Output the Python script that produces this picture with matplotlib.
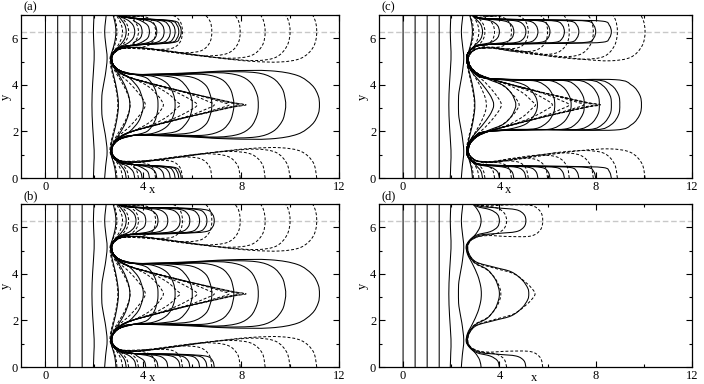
import matplotlib.pyplot as plt
from matplotlib.path import Path
from matplotlib.patches import PathPatch
from matplotlib.ticker import MultipleLocator

PI = 3.1416
TWO_PI = 6.2832

# every front is stored as its lower half (y from 0 to pi); the picture is
# symmetric about y = pi and periodic in y with period 2 pi

# early, nearly flat fronts (same in every panel, both models)
early = [
    [(0.0, 0.0), (0.0, 1.6), (0.0, PI)],
    [(0.5, 0.0), (0.5, 1.6), (0.5, PI)],
    [(1.0, 0.0), (1.0, 1.6), (1.0, PI)],
    [(1.5, 0.0), (1.5, 1.6), (1.5, PI)],
    [(1.96, 0.0), (1.98, 0.6), (1.99, 1.2), (1.93, 2.2), (1.9, PI)],
    [(2.42, 0.0), (2.46, 0.5), (2.52, 1.15), (2.44, 1.9), (2.32, 2.6), (2.3, PI)],
]

# shared trough paths
trough_a = [(3.6, 0.58), (3.05, 0.68), (2.78, 0.9), (2.7, 1.15), (2.76, 1.4), (3.02, 1.66), (3.6, 1.83)]
trough_c = [(3.5, 0.55), (3.0, 0.64), (2.72, 0.88), (2.64, 1.12), (2.7, 1.42), (2.95, 1.75), (3.5, 2.0)]
trough_dash = [(3.05, 0.74), (2.78, 0.95), (2.71, 1.18), (2.8, 1.5), (3.1, 1.8), (3.6, 2.02)]

# ---- panel (a): solid model
a_solid = [
    [(2.88, 0.0), (2.84, 0.4), (2.74, 0.8), (2.66, 1.12), (2.72, 1.6), (2.86, 2.2), (2.96, 2.8), (2.98, PI)],
    [(3.3, 0.0), (3.24, 0.3), (3.05, 0.58), (2.8, 0.85), (2.68, 1.12), (2.74, 1.42), (2.95, 1.78),
     (3.22, 2.25), (3.4, 2.75), (3.45, PI)],
    [(3.65, 0.0), (3.58, 0.28), (3.36, 0.5), (3.0, 0.68), (2.76, 0.92), (2.7, 1.15), (2.77, 1.42),
     (3.05, 1.72), (3.45, 2.0), (3.8, 2.42), (3.96, 2.85), (4.0, PI)],
    [(3.95, 0.0), (3.88, 0.27), (3.62, 0.47)] + trough_a + [(4.15, 2.0), (4.45, 2.4), (4.58, 2.85), (4.6, PI)],
    [(4.25, 0.0), (4.18, 0.27), (3.92, 0.46)] + trough_a + [(4.4, 1.92), (4.95, 2.2), (5.22, 2.65), (5.3, PI)],
    [(4.55, 0.0), (4.48, 0.27), (4.22, 0.46)] + trough_a
    + [(4.6, 1.88), (5.4, 2.02), (5.82, 2.45), (5.98, 2.9), (6.0, PI)],
    [(4.85, 0.0), (4.78, 0.27), (4.5, 0.47)] + trough_a
    + [(5.0, 1.86), (6.0, 1.96), (6.55, 2.3), (6.76, 2.8), (6.8, PI)],
    [(5.1, 0.0), (5.03, 0.27), (4.75, 0.47)] + trough_a
    + [(5.2, 1.84), (6.5, 1.84), (7.2, 2.05), (7.55, 2.45), (7.68, 2.9), (7.7, PI)],
    [(5.3, 0.0), (5.23, 0.27), (4.95, 0.47)] + trough_a
    + [(5.4, 1.82), (7.0, 1.76), (7.9, 1.88), (8.4, 2.2), (8.65, 2.7), (8.7, PI)],
    [(5.45, 0.0), (5.38, 0.27), (5.1, 0.47)] + trough_a
    + [(5.5, 1.8), (7.2, 1.72), (8.6, 1.76), (9.3, 2.0), (9.68, 2.45), (9.8, 2.9), (9.82, PI)],
    [(5.55, 0.0), (5.48, 0.27), (5.2, 0.47)] + trough_a
    + [(5.6, 1.78), (7.5, 1.68), (9.2, 1.68), (10.3, 1.88), (10.9, 2.3), (11.15, 2.75), (11.2, PI)],
]

# dashed model, centre fingers (shared by every panel but (d))
dash_tip_35 = [(3.2, 2.32), (3.4, 2.8), (3.46, PI)]
dash_tip_41 = [(3.45, 2.22), (3.85, 2.7), (4.04, 3.0), (4.08, PI)]
dash_tip_48 = [(4.2, 2.35), (4.6, 2.75), (4.78, 3.02), (4.82, PI)]
dash_tip_55 = [(4.4, 2.3), (5.0, 2.65), (5.35, 2.98), (5.5, PI)]
dash_tip_62 = [(4.5, 2.28), (5.3, 2.58), (5.9, 2.9), (6.2, PI)]
dash_tip_69 = [(4.8, 2.35), (5.9, 2.68), (6.55, 2.95), (6.9, PI)]
dash_tip_75 = [(5.0, 2.4), (6.2, 2.72), (7.1, 2.99), (7.5, PI)]
dash_tip_79 = [(5.1, 2.44), (6.4, 2.76), (7.4, 3.02), (7.9, PI)]
dash_tip_81 = [(5.2, 2.46), (6.5, 2.78), (7.6, 3.04), (8.1, PI)]
dash_tip_82 = [(5.3, 2.5), (6.6, 2.8), (7.7, 3.05), (8.2, PI)]

dash_first = [
    [(2.92, 0.0), (2.88, 0.4), (2.76, 0.78), (2.64, 1.12), (2.68, 1.55), (2.82, 2.15), (2.93, 2.75), (2.96, PI)],
    [(3.15, 0.0), (3.1, 0.3), (2.95, 0.62), (2.76, 0.9), (2.67, 1.13), (2.73, 1.45), (2.93, 1.85)] + dash_tip_35,
    [(3.4, 0.0), (3.33, 0.32), (3.12, 0.6), (2.84, 0.82), (2.7, 1.12), (2.76, 1.45), (3.0, 1.8)] + dash_tip_41,
    [(3.8, 0.0), (3.72, 0.33), (3.45, 0.6)] + trough_dash + dash_tip_48,
    [(4.5, 0.0), (4.41, 0.4), (4.1, 0.63), (3.5, 0.7)] + trough_dash + dash_tip_55,
]

# ---- panels (a), (b): dashed model
a_dashed = dash_first + [
    [(5.6, 0.0), (5.5, 0.45), (5.15, 0.72), (4.4, 0.76), (3.6, 0.72)] + trough_dash + dash_tip_62,
    [(6.8, 0.0), (6.7, 0.5), (6.3, 0.84), (5.4, 0.9), (4.4, 0.78), (3.6, 0.7)] + trough_dash + dash_tip_69,
    [(7.96, 0.0), (7.85, 0.55), (7.42, 0.94), (6.5, 1.04), (5.4, 0.92), (4.3, 0.74), (3.6, 0.68)]
    + trough_dash + dash_tip_75,
    [(8.98, 0.0), (8.86, 0.6), (8.42, 1.02), (7.6, 1.14), (6.5, 1.06), (5.3, 0.88), (4.2, 0.72),
     (3.6, 0.67)] + trough_dash + dash_tip_79,
    [(10.0, 0.0), (9.87, 0.62), (9.42, 1.1), (8.6, 1.24), (7.4, 1.16), (6.2, 1.0), (5.0, 0.83), (4.0, 0.7),
     (3.6, 0.67)] + trough_dash + dash_tip_81,
    [(11.09, 0.0), (10.95, 0.66), (10.45, 1.14), (9.6, 1.3), (8.4, 1.27), (7.0, 1.12), (5.8, 0.94),
     (4.6, 0.77), (3.6, 0.67)] + trough_dash + dash_tip_82,
]

# ---- panel (c): dashed model (side fingers stop near x = 10)
c_dashed = dash_first + [
    [(5.2, 0.0), (5.1, 0.42), (4.8, 0.68), (4.2, 0.74), (3.6, 0.7)] + trough_dash + dash_tip_62,
    [(6.0, 0.0), (5.9, 0.48), (5.5, 0.8), (4.7, 0.85), (3.6, 0.7)] + trough_dash + dash_tip_69,
    [(6.9, 0.0), (6.8, 0.52), (6.4, 0.9), (5.6, 0.98), (4.6, 0.85), (3.6, 0.68)] + trough_dash + dash_tip_75,
    [(7.9, 0.0), (7.78, 0.56), (7.35, 0.98), (6.5, 1.08), (5.4, 0.95), (4.3, 0.76), (3.6, 0.67)]
    + trough_dash + dash_tip_79,
    [(8.9, 0.0), (8.78, 0.6), (8.35, 1.06), (7.5, 1.18), (6.3, 1.08), (5.1, 0.88), (4.1, 0.72), (3.6, 0.67)]
    + trough_dash + dash_tip_81,
    [(10.05, 0.0), (9.92, 0.62), (9.45, 1.1), (8.6, 1.25), (7.4, 1.18), (6.2, 1.02), (5.0, 0.84), (4.0, 0.7),
     (3.6, 0.67)] + trough_dash + dash_tip_82,
]

# ---- panel (b): solid model (side fingers keep growing a bit longer)
b_solid = [
    a_solid[0],
    a_solid[1],
    [(3.7, 0.0), (3.63, 0.28), (3.4, 0.5), (3.0, 0.68), (2.76, 0.92), (2.7, 1.15), (2.77, 1.42),
     (3.05, 1.72), (3.45, 2.0), (3.8, 2.42), (3.96, 2.85), (4.0, PI)],
    [(4.1, 0.0), (4.03, 0.27), (3.75, 0.47)] + trough_a + [(4.15, 2.0), (4.45, 2.4), (4.58, 2.85), (4.6, PI)],
    [(4.6, 0.0), (4.53, 0.27), (4.25, 0.47)] + trough_a + [(4.4, 1.92), (4.95, 2.2), (5.22, 2.65), (5.3, PI)],
    [(5.0, 0.0), (4.93, 0.27), (4.65, 0.47), (4.0, 0.55)] + trough_a
    + [(4.6, 1.88), (5.4, 2.02), (5.82, 2.45), (5.98, 2.9), (6.0, PI)],
    [(5.5, 0.0), (5.43, 0.27), (5.15, 0.47), (4.4, 0.55)] + trough_a
    + [(5.0, 1.86), (6.0, 1.96), (6.55, 2.3), (6.76, 2.8), (6.8, PI)],
    [(5.9, 0.0), (5.83, 0.27), (5.55, 0.47), (4.7, 0.55)] + trough_a
    + [(5.2, 1.84), (6.5, 1.84), (7.2, 2.05), (7.55, 2.45), (7.68, 2.9), (7.7, PI)],
    [(6.3, 0.0), (6.23, 0.27), (5.95, 0.47), (5.0, 0.55)] + trough_a
    + [(5.4, 1.82), (7.0, 1.76), (7.9, 1.88), (8.4, 2.2), (8.65, 2.7), (8.7, PI)],
    [(6.6, 0.0), (6.53, 0.27), (6.25, 0.47), (5.2, 0.55)] + trough_a
    + [(5.5, 1.8), (7.2, 1.72), (8.6, 1.76), (9.3, 2.0), (9.68, 2.45), (9.8, 2.9), (9.82, PI)],
    [(6.9, 0.0), (6.83, 0.27), (6.55, 0.47), (5.4, 0.55)] + trough_a
    + [(5.6, 1.78), (7.5, 1.68), (9.2, 1.68), (10.3, 1.88), (10.9, 2.3), (11.15, 2.75), (11.2, PI)],
]

# ---- panel (c): solid model
c_solid = [
    a_solid[0],
    [(3.3, 0.0), (3.23, 0.3), (3.02, 0.55), (2.76, 0.82), (2.64, 1.12), (2.7, 1.45), (2.92, 1.82),
     (3.28, 2.25), (3.6, 2.7), (3.74, 3.0), (3.76, PI)],
    [(4.0, 0.0), (3.92, 0.27), (3.65, 0.46), (3.05, 0.6), (2.76, 0.84), (2.65, 1.12), (2.71, 1.44),
     (2.96, 1.78), (3.55, 2.05), (4.15, 2.3), (4.5, 2.65), (4.66, 3.0), (4.68, PI)],
    [(4.6, 0.0), (4.52, 0.27), (4.25, 0.45), (3.6, 0.53)] + trough_c
    + [(4.4, 2.1), (5.1, 2.32), (5.48, 2.75), (5.58, PI)],
    [(5.1, 0.0), (5.02, 0.27), (4.75, 0.45), (4.0, 0.52)] + trough_c
    + [(4.5, 2.08), (5.5, 2.12), (6.0, 2.4), (6.25, 2.8), (6.3, PI)],
    [(5.6, 0.0), (5.52, 0.27), (5.25, 0.45), (4.4, 0.52)] + trough_c
    + [(5.0, 2.08), (6.1, 2.1), (6.65, 2.38), (6.92, 2.8), (6.98, PI)],
    [(6.1, 0.0), (6.02, 0.27), (5.75, 0.45), (4.8, 0.51)] + trough_c
    + [(5.2, 2.08), (6.7, 2.1), (7.2, 2.35), (7.48, 2.78), (7.52, PI)],
    [(6.7, 0.0), (6.62, 0.27), (6.35, 0.45), (5.3, 0.5)] + trough_c
    + [(5.5, 2.08), (7.2, 2.08), (7.8, 2.32), (8.1, 2.75), (8.15, PI)],
    [(7.3, 0.0), (7.22, 0.27), (6.95, 0.45), (5.8, 0.5)] + trough_c
    + [(5.6, 2.08), (7.7, 2.08), (8.3, 2.32), (8.6, 2.75), (8.65, PI)],
    [(8.0, 0.0), (7.92, 0.27), (7.65, 0.45), (6.3, 0.5)] + trough_c
    + [(5.8, 2.08), (8.0, 2.07), (8.65, 2.3), (8.95, 2.72), (9.0, PI)],
    [(8.65, 0.0), (8.57, 0.27), (8.3, 0.45), (6.8, 0.5)] + trough_c
    + [(6.0, 2.07), (8.8, 2.06), (9.5, 2.3), (9.83, 2.72), (9.9, PI)],
]

# ---- panel (d)
d_solid = [
    [(3.24, 0.0), (3.18, 0.3), (3.0, 0.6), (2.75, 0.85), (2.62, 1.1), (2.68, 1.45), (2.88, 1.85),
     (3.1, 2.35), (3.22, 2.8), (3.25, PI)],
    [(4.0, 0.0), (3.92, 0.27), (3.62, 0.47), (3.05, 0.62), (2.75, 0.88), (2.64, 1.12), (2.72, 1.48),
     (3.0, 1.82), (3.5, 2.1), (3.82, 2.5), (3.97, 2.9), (4.0, PI)],
    [(5.1, 0.0), (5.02, 0.27), (4.7, 0.47), (3.9, 0.55), (3.2, 0.62), (2.82, 0.82), (2.68, 1.1),
     (2.75, 1.45), (3.05, 1.78), (3.8, 2.0), (4.5, 2.2), (4.95, 2.55), (5.18, 2.9), (5.22, PI)],
]
d_dashed = [
    [(4.3, 0.0), (4.2, 0.33), (3.88, 0.55), (3.2, 0.66), (2.8, 0.86), (2.65, 1.12), (2.73, 1.48),
     (3.0, 1.84), (3.5, 2.12), (3.85, 2.52), (4.02, 2.9), (4.06, PI)],
    [(5.8, 0.0), (5.7, 0.4), (5.3, 0.66), (4.4, 0.68), (3.5, 0.64), (2.95, 0.75), (2.7, 1.05),
     (2.75, 1.45), (3.05, 1.8), (3.8, 2.04), (4.6, 2.28), (5.15, 2.7), (5.42, 3.0), (5.48, PI)],
]

panels = [
    ("(a)", a_solid, a_dashed, [21, 15, 339, 178], (152, 190), (6, 97)),
    ("(c)", c_solid, c_dashed, [379, 15, 692, 178], (508, 190), (363, 97)),
    ("(b)", b_solid, a_dashed, [21, 204, 339, 367], (152, 378), (6, 286)),
    ("(d)", d_solid, d_dashed, [379, 204, 692, 367], (534, 378), (363, 286)),
]

W, H = 704, 384


def full_curve(half):
    # lower half, mirrored upper half, then the periodic copy above 2 pi
    upper = [(x, TWO_PI - y) for x, y in half[::-1]]
    above = [(x, TWO_PI + y) for x, y in half]
    return half + upper[1:] + above[1:]


def smooth(pts):
    # smooth path through the read points (Catmull-Rom as cubic Bezier)
    verts = [pts[0]]
    codes = [Path.MOVETO]
    n = len(pts)
    for i in range(n - 1):
        p0 = pts[i - 1] if i > 0 else pts[i]
        p1 = pts[i]
        p2 = pts[i + 1]
        p3 = pts[i + 2] if i + 2 < n else p2
        c1 = (p1[0] + (p2[0] - p0[0]) / 6, p1[1] + (p2[1] - p0[1]) / 6)
        c2 = (p2[0] - (p3[0] - p1[0]) / 6, p2[1] - (p3[1] - p1[1]) / 6)
        verts += [c1, c2, p2]
        codes += [Path.CURVE4] * 3
    return Path(verts, codes)


plt.rcParams['font.family'] = ['Liberation Serif', 'DejaVu Serif']
fig = plt.figure(figsize=(W / 100, H / 100), dpi=100)

for label, solid, dashed, box, xlab, ylab in panels:
    x0, y0, x1, y1 = box
    ax = fig.add_axes([x0 / W, 1 - y1 / H, (x1 - x0) / W, (y1 - y0) / H])
    ax.axhline(TWO_PI, color='#c8c8c8', lw=1.0, ls=(0, (4, 2)), zorder=1)
    for half in dashed:
        ax.add_patch(PathPatch(smooth(full_curve(half)), fill=False, ec='black', lw=0.7,
                               ls=(0, (3, 2)), zorder=2))
    for half in early + solid:
        ax.add_patch(PathPatch(smooth(full_curve(half)), fill=False, ec='black', lw=0.75, zorder=3))

    ax.set_xlim(-1, 12)
    ax.set_ylim(0, 7)
    ax.set_xticks([0, 4, 8, 12])
    ax.set_yticks([0, 2, 4, 6])
    ax.xaxis.set_minor_locator(MultipleLocator(2))
    ax.yaxis.set_minor_locator(MultipleLocator(1))
    ax.tick_params(which='both', direction='in', top=True, right=True, width=0.8, labelsize=9)
    ax.tick_params(which='major', length=4, pad=2)
    ax.tick_params(which='minor', length=2)
    for s in ax.spines.values():
        s.set_linewidth(0.9)

    fig.text(x0 / W + 0.003, 1 - (y0 - 8) / H, label, fontsize=9, ha='left', va='center')
    fig.text(xlab[0] / W, 1 - xlab[1] / H, "x", fontsize=9, ha='center', va='center')
    fig.text(ylab[0] / W, 1 - ylab[1] / H, "y", fontsize=9, ha='center', va='center', rotation=90)

fig.savefig("out.png", dpi=100)
